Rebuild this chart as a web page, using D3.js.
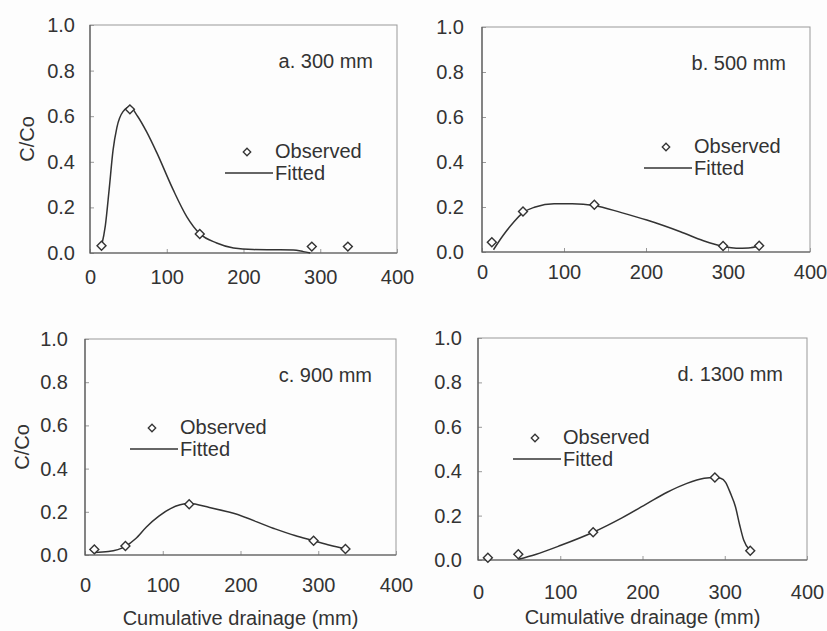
<!DOCTYPE html>
<html>
<head>
<meta charset="utf-8">
<script src="https://cdn.jsdelivr.net/npm/d3@7"></script>
<style>
  body { margin: 0; background: #fdfdfd; }
  svg { display: block; }
  text { font-family: "Liberation Sans", Arial, sans-serif; fill: #333; }
</style>
</head>
<body>
<svg id="chart"></svg>
<script>
// panel titles
let panelLabels = ['a. 300 mm', 'b. 500 mm', 'c. 900 mm', 'd. 1300 mm'];

// observed points (cumulative drainage mm, C/Co)
let obsA_x = [15, 52, 143, 289, 336];
let obsA_y = [0.032, 0.63, 0.083, 0.028, 0.028];
let obsB_x = [12, 50, 137, 294, 338];
let obsB_y = [0.043, 0.18, 0.21, 0.027, 0.028];
let obsC_x = [12, 52, 134, 294, 335];
let obsC_y = [0.026, 0.042, 0.235, 0.066, 0.028];
let obsD_x = [12, 49, 140, 288, 331];
let obsD_y = [0.01, 0.026, 0.125, 0.372, 0.042];

// fitted curves
let fitA_x = [15, 20, 25, 30, 35, 43, 52, 62, 74, 87, 108, 126, 143, 165, 187, 213, 240, 265, 278, 287];
let fitA_y = [0.03, 0.12, 0.28, 0.45, 0.55, 0.62, 0.64, 0.6, 0.53, 0.44, 0.28, 0.16, 0.085, 0.044, 0.022, 0.015, 0.014, 0.013, 0.006, 0.0];
let fitB_x = [14, 25, 38, 50, 65, 88, 110, 137, 170, 201, 242, 270, 294, 310, 325, 338];
let fitB_y = [0.01, 0.07, 0.13, 0.175, 0.2, 0.215, 0.215, 0.207, 0.175, 0.142, 0.09, 0.05, 0.025, 0.017, 0.018, 0.028];
let fitC_x = [12, 30, 52, 65, 79, 95, 110, 134, 160, 191, 242, 270, 294, 315, 335];
let fitC_y = [0.012, 0.016, 0.04, 0.075, 0.13, 0.18, 0.215, 0.238, 0.22, 0.193, 0.124, 0.09, 0.066, 0.045, 0.028];
let fitD_x = [49, 70, 100, 140, 175, 206, 230, 254, 275, 288, 295, 301, 307, 313, 318, 323, 331];
let fitD_y = [0.003, 0.025, 0.065, 0.125, 0.19, 0.255, 0.305, 0.345, 0.368, 0.372, 0.368, 0.35, 0.3, 0.24, 0.16, 0.09, 0.042];

let xTicks = [0, 100, 200, 300, 400];
let yTicks = [0, 0.2, 0.4, 0.6, 0.8, 1.0];
let yTitle = 'C/Co';
let xTitle = 'Cumulative drainage (mm)';
let legendLabels = ['Observed', 'Fitted'];

let width = 827;
let height = 631;

let zip = (xs, ys) => xs.map((x, i) => [x, ys[i]]);

// box position of each panel, plus where its legend sits
let panels = [
  { left: 90, right: 397, top: 25, bottom: 253, xPad: 17, yPad: 15, leg: [157, 127], yTitle: true, xTitle: 0,
    obs: zip(obsA_x, obsA_y), fit: zip(fitA_x, fitA_y) },
  { left: 482, right: 810, top: 27, bottom: 252, xPad: 13, yPad: 18, leg: [184, 120], yTitle: false, xTitle: 0,
    obs: zip(obsB_x, obsB_y), fit: zip(fitB_x, fitB_y) },
  { left: 85, right: 396, top: 339, bottom: 555, xPad: 23, yPad: 17, leg: [67, 89], yTitle: true, xTitle: 63,
    obs: zip(obsC_x, obsC_y), fit: zip(fitC_x, fitC_y) },
  { left: 478, right: 807, top: 338, bottom: 560, xPad: 25, yPad: 16, leg: [57, 100], yTitle: false, xTitle: 57,
    obs: zip(obsD_x, obsD_y), fit: zip(fitD_x, fitD_y) },
];

let svg = d3.select('#chart').attr('width', width).attr('height', height);

let diamond = (size) => d3.symbol().type(d3.symbolSquare).size(size);

function drawPanel(p, i) {
  let w = p.right - p.left;
  let h = p.bottom - p.top;
  let g = svg.append('g').attr('transform', `translate(${p.left},${p.top})`);

  let x = d3.scaleLinear().domain([0, 400]).range([0, w]);
  let y = d3.scaleLinear().domain([0, 1]).range([h, 0]);

  let xAxis = g.append('g')
    .attr('transform', `translate(0,${h})`)
    .call(d3.axisBottom(x).tickValues(xTicks).tickFormat(d3.format('d'))
      .tickSizeInner(-4).tickSizeOuter(0).tickPadding(p.xPad));
  let yAxis = g.append('g')
    .call(d3.axisLeft(y).tickValues(yTicks).tickFormat(d3.format('.1f'))
      .tickSizeInner(-4).tickSizeOuter(0).tickPadding(p.yPad));

  [xAxis, yAxis].forEach((a) => {
    a.select('.domain').remove();
    a.selectAll('line').attr('stroke', '#999');
    a.selectAll('text').style('font-size', '20px').attr('fill', '#333');
  });

  // frame
  g.append('rect')
    .attr('width', w).attr('height', h)
    .attr('fill', 'none').attr('stroke', '#999').attr('stroke-width', 1);
  g.append('path')
    .attr('d', `M0,0V${h}H${w}`)
    .attr('fill', 'none').attr('stroke', '#555').attr('stroke-width', 1.2);

  let line = d3.line().x((d) => x(d[0])).y((d) => y(d[1])).curve(d3.curveMonotoneX);

  g.append('path')
    .datum(p.fit)
    .attr('d', line)
    .attr('fill', 'none').attr('stroke', '#333').attr('stroke-width', 1.5);

  g.selectAll('.obs')
    .data(p.obs)
    .enter()
    .append('path')
    .attr('class', 'obs')
    .attr('d', diamond(40))
    .attr('transform', (d) => `translate(${x(d[0])},${y(d[1])}) rotate(45)`)
    .attr('fill', '#fdfdfd').attr('stroke', '#333').attr('stroke-width', 1.4);

  // panel title
  g.append('text')
    .attr('x', w - 24).attr('y', 36).attr('dy', '0.35em')
    .attr('text-anchor', 'end')
    .style('font-size', '20px')
    .text(panelLabels[i]);

  // legend
  let lx = p.leg[0];
  let ly = p.leg[1];
  g.append('path')
    .attr('d', diamond(28))
    .attr('transform', `translate(${lx},${ly}) rotate(45)`)
    .attr('fill', 'none').attr('stroke', '#333').attr('stroke-width', 1.3);
  g.append('line')
    .attr('x1', lx - 22).attr('x2', lx + 26)
    .attr('y1', ly + 21).attr('y2', ly + 21)
    .attr('stroke', '#333').attr('stroke-width', 1.5);
  g.append('text')
    .attr('x', lx + 28).attr('y', ly - 1).attr('dy', '0.35em')
    .style('font-size', '20px')
    .text(legendLabels[0]);
  g.append('text')
    .attr('x', lx + 28).attr('y', ly + 21).attr('dy', '0.35em')
    .style('font-size', '20px')
    .text(legendLabels[1]);

  if (p.yTitle) {
    g.append('text')
      .attr('transform', `translate(-63,${h / 2}) rotate(-90)`)
      .attr('text-anchor', 'middle').attr('dy', '0.35em')
      .style('font-size', '20px')
      .text(yTitle);
  }
  if (p.xTitle) {
    g.append('text')
      .attr('x', w / 2).attr('y', h + p.xTitle).attr('dy', '0.35em')
      .attr('text-anchor', 'middle')
      .style('font-size', '20px')
      .text(xTitle);
  }
}

panels.forEach(drawPanel);
</script>
</body>
</html>
